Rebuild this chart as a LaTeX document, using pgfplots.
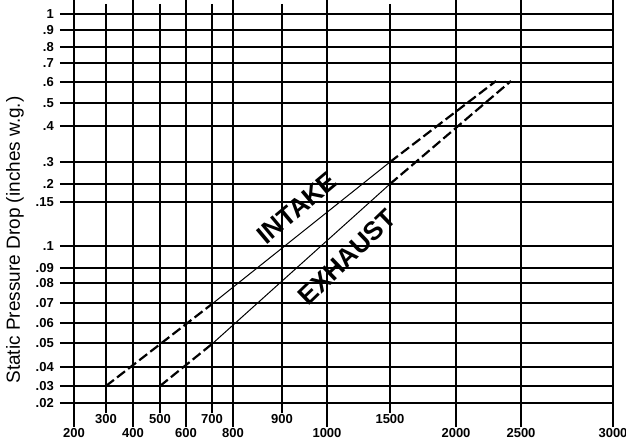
\documentclass[border=0pt]{standalone}
\usepackage{pgfplots}
\pgfplotsset{compat=1.18}
\usepackage{fontspec}
\setmainfont{Liberation Sans}

% The printed grid is hand-spaced (not a true log scale), so both axes are
% kept in chart-position units and the grid values are put on as tick labels.
\begin{document}
\begin{tikzpicture}
\begin{axis}[
    scale only axis,
    width=553pt, height=389pt,
    xmin=60, xmax=613,
    ymin=41, ymax=430,
    axis line style={draw=none},
    grid=major,
    major grid style={black, line width=1.1pt},
    tick align=outside,
    xtick={74,133,186,233,327,456,521,613},
    xticklabels={200,400,600,800,1000,2000,2500,3000},
    major x tick style={black, line width=1.1pt},
    major tick length=24pt,
    extra x ticks={106,160,212,282,390},
    extra x tick labels={300,500,700,900,1500},
    extra x tick style={major tick length=10pt, grid=major},
    xticklabel style={font=\fontsize{13}{14}\selectfont\bfseries, inner sep=1pt},
    ytick={430,414,397,381,362,341,318,282,260,242,198,176,161,141,121,101,77,58,41},
    yticklabels={1,.9,.8,.7,.6,.5,.4,.3,.2,.15,.1,.09,.08,.07,.06,.05,.04,.03,.02},
    y tick style={draw=none},
    yticklabel style={font=\fontsize{13}{14}\selectfont\bfseries, inner sep=1pt, xshift=19pt},
    ylabel={Static Pressure Drop (inches w.g.)},
    ylabel style={font=\fontsize{19}{21}\selectfont, at={(axis description cs:-0.0814,0.419)}, anchor=center},
    clip=false,
]
% INTAKE
\addplot[black, line width=2.2pt, dash pattern=on 10pt off 4pt] coordinates {(106,58) (212,140)};
\addplot[black, line width=1pt] coordinates {(212,140) (390,282)};
\addplot[black, line width=2.2pt, dash pattern=on 10pt off 4pt] coordinates {(390,282) (496,363)};
% EXHAUST
\addplot[black, line width=2.2pt, dash pattern=on 10pt off 4pt] coordinates {(160,58) (212,100)};
\addplot[black, line width=1pt] coordinates {(212,100) (390,260)};
\addplot[black, line width=2.2pt, dash pattern=on 10pt off 4pt] coordinates {(390,260) (511,363)};

\node[rotate=40, font=\fontsize{26}{28}\selectfont\bfseries] at (axis cs:297,236) {INTAKE};
\node[rotate=44, font=\fontsize{26}{28}\selectfont\bfseries] at (axis cs:347,187) {EXHAUST};
\end{axis}
\pgfresetboundingbox
\useasboundingbox (-60pt,-41pt) rectangle (566pt,403pt);
\end{tikzpicture}
\end{document}
